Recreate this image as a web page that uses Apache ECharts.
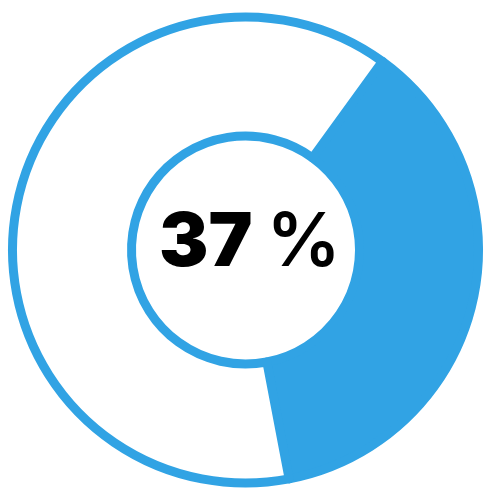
<!DOCTYPE html>
<html><head><meta charset="utf-8">
<script src="https://cdn.jsdelivr.net/npm/echarts@6/dist/echarts.min.js"></script>
<style>html,body{margin:0;padding:0;background:#fff}#c{width:500px;height:500px}</style>
</head><body><div id="c"></div>
<script>
const categories = ['Filled', 'Remaining'];
const values = [37, 63];
const labelNumber = '37';
const labelUnit = '%';

const blue = '#31a3e4';
const chart = echarts.init(document.getElementById('c'), null, {renderer: 'canvas'});
chart.setOption({
  animation: false,
  title: {
    text: '{n|' + labelNumber + '}{u|' + labelUnit + '}',
    left: 'center',
    top: 202,
    textStyle: {
      rich: {
        n: {fontFamily: 'Inter', fontWeight: 900, fontSize: 74, color: '#000', letterSpacing: -2},
        u: {fontFamily: 'Inter', fontWeight: 600, fontSize: 74, color: '#000', padding: [0, 0, 0, 14]}
      }
    }
  },
  series: [{
    type: 'pie',
    center: [245.5, 250],
    radius: [114, 233],
    startAngle: 54,
    clockwise: true,
    silent: true,
    label: {show: false},
    labelLine: {show: false},
    data: categories.map((c, i) => ({
      name: c,
      value: values[i],
      itemStyle: i === 0
        ? {color: blue, borderColor: blue, borderWidth: 9, borderJoin: 'round'}
        : {color: '#fff', borderColor: blue, borderWidth: 9, borderJoin: 'round'}
    }))
  }]
});
</script></body></html>
